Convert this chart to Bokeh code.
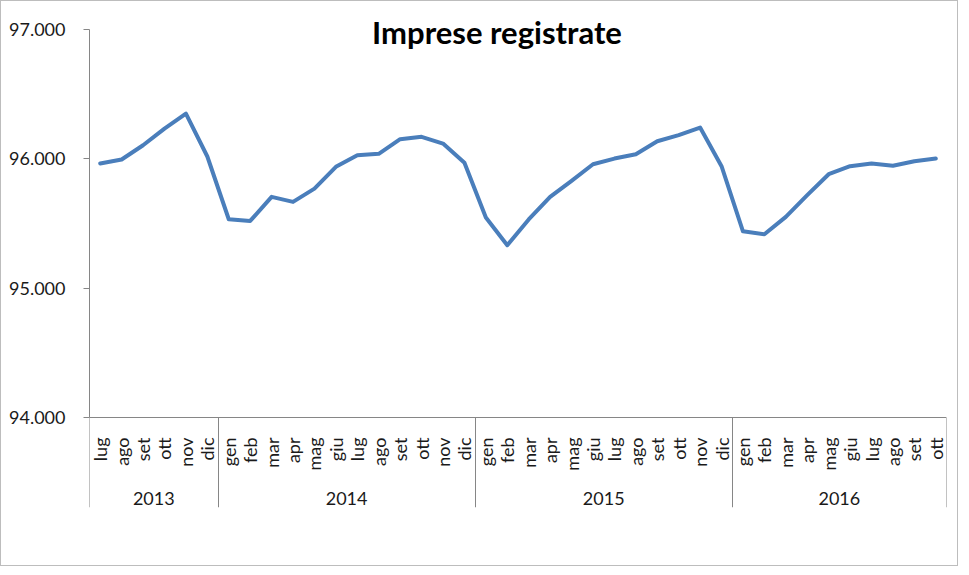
from math import pi
from bokeh.plotting import figure
from bokeh.models import Range1d, LinearAxis, FixedTicker, CustomJSTickFormatter, Label
from bokeh.embed import file_html
from bokeh.resources import INLINE

# ---- data ----
year_labels = ["2013", "2014", "2015", "2016"]
months_2013 = ["lug", "ago", "set", "ott", "nov", "dic"]
months_2014 = ["gen", "feb", "mar", "apr", "mag", "giu", "lug", "ago", "set", "ott", "nov", "dic"]
months_2015 = ["gen", "feb", "mar", "apr", "mag", "giu", "lug", "ago", "set", "ott", "nov", "dic"]
months_2016 = ["gen", "feb", "mar", "apr", "mag", "giu", "lug", "ago", "set", "ott"]
values_2013 = [95964, 95995, 96105, 96234, 96350, 96018]
values_2014 = [95533, 95520, 95706, 95667, 95770, 95938, 96028, 96039, 96152, 96170, 96118, 95969]
values_2015 = [95546, 95332, 95531, 95706, 95830, 95958, 96002, 96036, 96136, 96183, 96242, 95943]
values_2016 = [95440, 95417, 95551, 95719, 95881, 95943, 95964, 95946, 95981, 96002]
y_ticks = [94000, 95000, 96000, 97000]
title_text = "Imprese registrate"

groups = [months_2013, months_2014, months_2015, months_2016]
months = [m for g in groups for m in g]
values = values_2013 + values_2014 + values_2015 + values_2016
n = len(months)
xs = [i + 0.5 for i in range(n)]
bounds = [0]
for g in groups:
    bounds.append(bounds[-1] + len(g))
centers = [(bounds[k] + bounds[k + 1]) / 2 for k in range(len(groups))]

FONT = "Lato"
AX = "#868686"
TXT = "#1a1a1a"

y_min, y_max = 94000, 97000
units_per_px = (y_max - y_min) / 388.0
# frame extends below the value axis (category labels) and above it (title room)
y_start = y_min - 90.0 * units_per_px
y_end = y_max + 20.0 * units_per_px

p = figure(width=958, height=566, output_backend="svg", toolbar_location=None, tools="",
           x_range=Range1d(0, n), y_range=Range1d(y_start, y_end),
           x_axis_location=None, y_axis_location=None,
           min_border_left=88, min_border_right=13, min_border_top=8, min_border_bottom=60,
           outline_line_color=None, background_fill_color="white", border_fill_color="white")
p.styles = {"border": "1px solid #bdbdbd"}
for g in p.grid:
    g.visible = False

p.line(xs, values, line_color="#4a7ebb", line_width=4, line_join="round", line_cap="round")

yax = LinearAxis(ticker=FixedTicker(ticks=y_ticks),
                 formatter=CustomJSTickFormatter(code="return (tick/1000).toFixed(3);"),
                 bounds=(y_min, y_max), axis_line_color=AX, major_tick_line_color=AX,
                 major_tick_in=0, major_tick_out=6, minor_tick_line_color=None,
                 major_label_standoff=18, major_label_text_font=FONT,
                 major_label_text_font_size="18px", major_label_text_color=TXT)
p.add_layout(yax, "left")

sep = LinearAxis(fixed_location=y_min, ticker=FixedTicker(ticks=bounds),
                 axis_line_color=None, major_tick_line_color=AX, major_tick_in=0,
                 major_tick_out=90, minor_tick_line_color=None,
                 formatter=CustomJSTickFormatter(code="return '';"),
                 major_label_text_font_size="1px")
p.add_layout(sep, "below")

mx = LinearAxis(fixed_location=y_min, ticker=FixedTicker(ticks=xs),
                formatter=CustomJSTickFormatter(args=dict(labels=months),
                                                code="return labels[Math.floor(tick)];"),
                bounds=(0, n), axis_line_color=AX, major_tick_line_color=None,
                minor_tick_line_color=None, major_label_orientation=pi / 2,
                major_label_standoff=14, major_label_text_font=FONT,
                major_label_text_font_size="18px", major_label_text_color=TXT)
p.add_layout(mx, "below")

yrx = LinearAxis(fixed_location=y_min, ticker=FixedTicker(ticks=centers),
                 formatter=CustomJSTickFormatter(args=dict(labels=year_labels, b=bounds),
                     code="for (let k = 0; k < labels.length; k++) { if (tick > b[k] && tick < b[k+1]) return labels[k]; } return '';"),
                 axis_line_color=None, major_tick_line_color=None, minor_tick_line_color=None,
                 major_label_standoff=68, major_label_text_font=FONT,
                 major_label_text_font_size="18px", major_label_text_color=TXT)
p.add_layout(yrx, "below")

title = Label(x=19.02, y=y_max - (38.0 - 36) * units_per_px, text=title_text,
              text_font=FONT, text_font_style="bold", text_font_size="31px",
              text_align="center", text_baseline="alphabetic", text_color="#000000")
p.add_layout(title)

open("out.html", "w").write(file_html(p, INLINE))
